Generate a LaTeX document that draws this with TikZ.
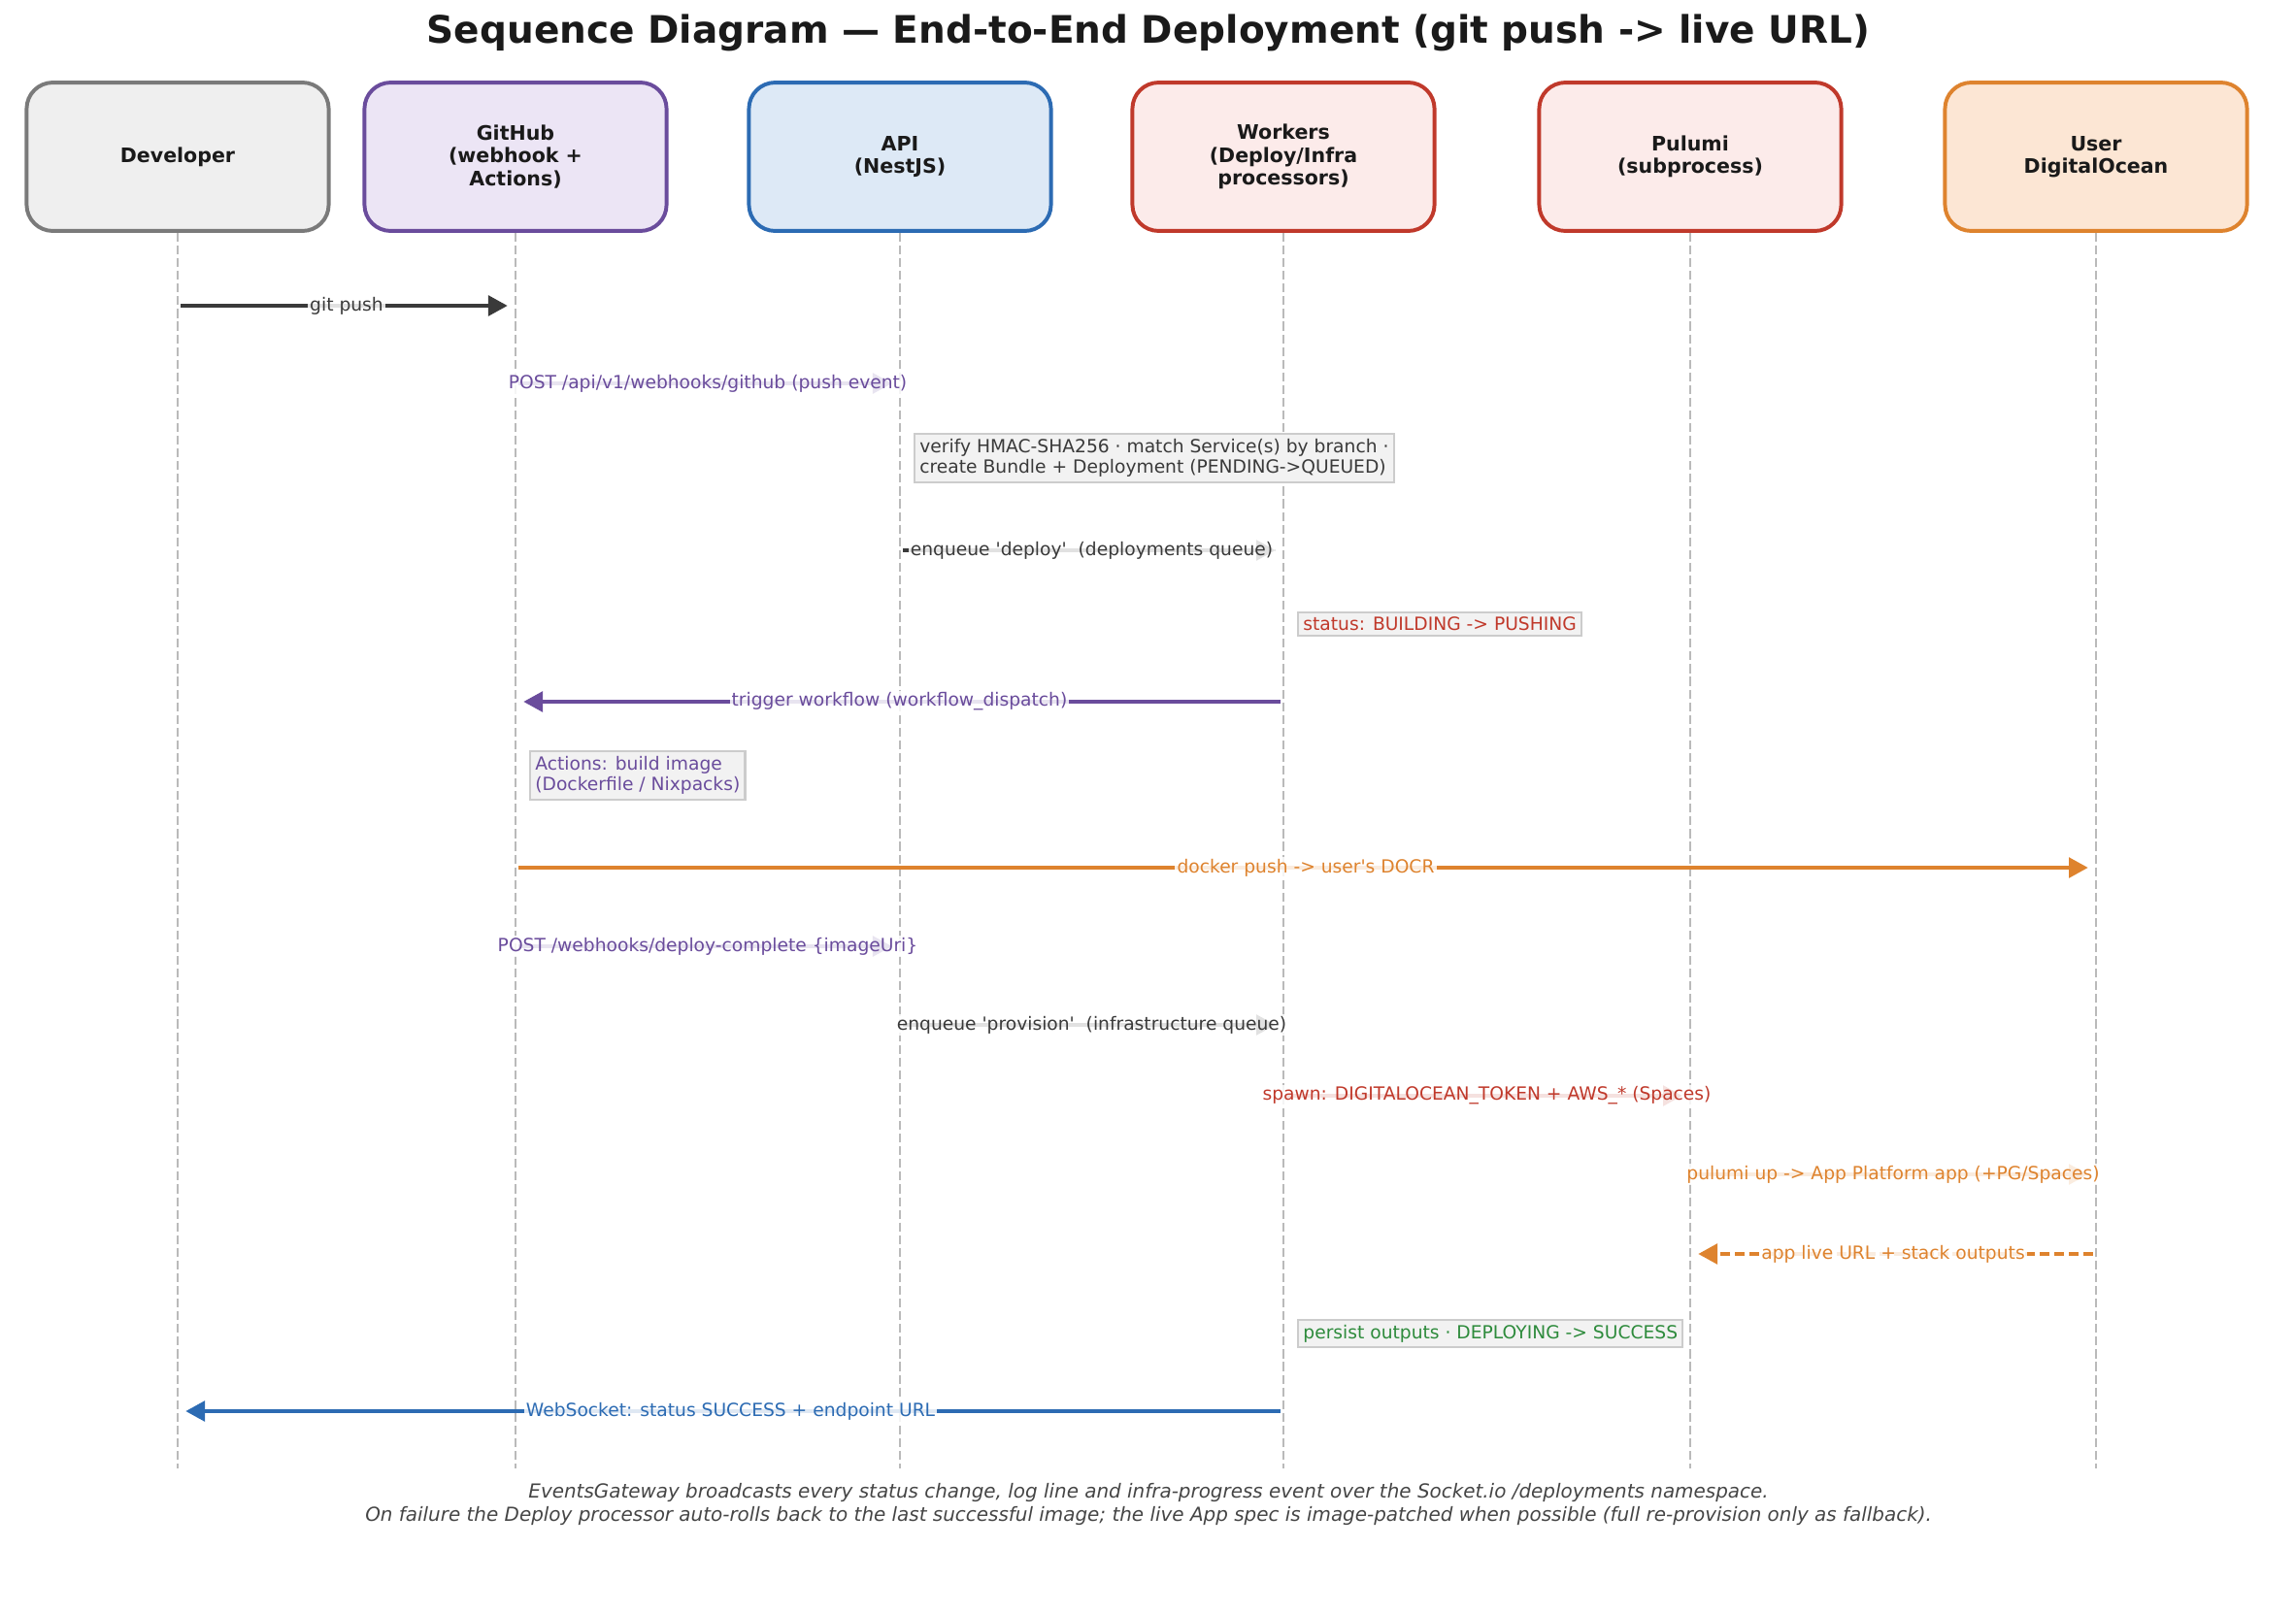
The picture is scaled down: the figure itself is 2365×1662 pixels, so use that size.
\documentclass[tikz,border=0pt]{standalone}
\usepackage{fontspec}
\setmainfont{DejaVu Sans}[Ligatures=TeXOff]
\usetikzlibrary{arrows.meta}

\definecolor{inkdark}{HTML}{3A3A3A}
\definecolor{inktitle}{HTML}{1A1A1A}
\definecolor{inkgray}{HTML}{7A7A7A}
\definecolor{inkpurple}{HTML}{6A4C9C}
\definecolor{inkblue}{HTML}{2C6BB3}
\definecolor{inkred}{HTML}{C0392B}
\definecolor{inkorange}{HTML}{DE832E}
\definecolor{inkgreen}{HTML}{2E8B3C}
\definecolor{fillgray}{HTML}{EFEFEF}
\definecolor{fillpurple}{HTML}{ECE5F5}
\definecolor{fillblue}{HTML}{DDE9F6}
\definecolor{fillred}{HTML}{FCEBEA}
\definecolor{fillorange}{HTML}{FCE6D4}

\begin{document}
\begin{tikzpicture}[x=0.0169333cm,y=-0.0169333cm,
  actor/.style={draw,line width=1.9pt,rounded corners=13pt,minimum width=5.27cm,
    minimum height=2.59cm,align=center,text=inktitle,
    font=\bfseries\fontsize{9.9}{11.2}\selectfont},
  lifeline/.style={draw=black!27,line width=1.1pt,dash pattern=on 4.4pt off 1.9pt},
  msg/.style={line width=1.6pt,-{Triangle[length=9.5pt,width=10pt]},
    shorten >=4pt,shorten <=1.5pt},
  lbl/.style={fill=white,fill opacity=0.85,text opacity=1,inner sep=1pt,
    font=\fontsize{9}{10}\selectfont},
  note/.style={anchor=west,xshift=0.24cm,draw=black!20,line width=1pt,fill=black!5,
    inner sep=2.5pt,align=left,font=\fontsize{9}{10.4}\selectfont}]
  \useasboundingbox (0,0) rectangle (2365,1662);

  \node[font=\bfseries\fontsize{18.8}{22}\selectfont,text=inktitle] (title) at (1183,34)
    {Sequence Diagram — End-to-End Deployment (git push -> live URL)};

  % participants
  \node[actor,draw=inkgray,fill=fillgray] (dev) at (183,161.5) {Developer};
  \node[actor,draw=inkpurple,fill=fillpurple] (gh) at (531,161.5) {GitHub\\(webhook +\\Actions)};
  \node[actor,draw=inkblue,fill=fillblue] (api) at (927,161.5) {API\\(NestJS)};
  \node[actor,draw=inkred,fill=fillred] (wrk) at (1322,161.5) {Workers\\(Deploy/Infra\\processors)};
  \node[actor,draw=inkred,fill=fillred] (pul) at (1741,161.5) {Pulumi\\(subprocess)};
  \node[actor,draw=inkorange,fill=fillorange] (usr) at (2159,161.5) {User\\DigitalOcean};

  \foreach \p in {dev,gh,api,wrk,pul,usr} {
    \draw[lifeline] (\p.south) -- (\p.south |- 0,1513);
  }

  % messages
  \draw[msg,color=inkdark] (dev |- 0,315) -- node[lbl] (m1) {git push} (gh |- 0,315);
  \draw[msg,color=inkpurple] (gh |- 0,395) -- node[lbl] (m2)
    {POST /api/v1/webhooks/github (push event)} (api |- 0,395);
  \node[note,text=inkdark] (n1) at (api |- 0,472)
    {verify HMAC-SHA256 · match Service(s) by branch ·\\create Bundle + Deployment (PENDING->QUEUED)};
  \draw[msg,color=inkdark] (api |- 0,567) -- node[lbl] (m3)
    {enqueue 'deploy'~~(deployments queue)} (wrk |- 0,567);
  \node[note,text=inkred] (n2) at (wrk |- 0,643) {status: BUILDING -> PUSHING};
  \draw[msg,color=inkpurple] (wrk |- 0,723) -- node[lbl] (m4)
    {trigger workflow (workflow\_dispatch)} (gh |- 0,723);
  \node[note,text=inkpurple] (n3) at (gh |- 0,799) {Actions: build image\\(Dockerfile / Nixpacks)};
  \draw[msg,color=inkorange] (gh |- 0,894) -- node[lbl] (m5)
    {docker push -> user's DOCR} (usr |- 0,894);
  \draw[msg,color=inkpurple] (gh |- 0,975) -- node[lbl] (m6)
    {POST /webhooks/deploy-complete \{imageUri\}} (api |- 0,975);
  \draw[msg,color=inkdark] (api |- 0,1056) -- node[lbl] (m7)
    {enqueue 'provision'~~(infrastructure queue)} (wrk |- 0,1056);
  \draw[msg,color=inkred] (wrk |- 0,1129) -- node[lbl] (m8)
    {spawn: DIGITALOCEAN\_TOKEN + AWS\_* (Spaces)} (pul |- 0,1129);
  \draw[msg,color=inkorange] (pul |- 0,1210) -- node[lbl] (m9)
    {pulumi up -> App Platform app (+PG/Spaces)} (usr |- 0,1210);
  \draw[msg,color=inkorange,dash pattern=on 5pt off 2.2pt] (usr |- 0,1292) -- node[lbl] (m10)
    {app live URL + stack outputs} (pul |- 0,1292);
  \node[note,text=inkgreen] (n4) at (wrk |- 0,1374) {persist outputs · DEPLOYING -> SUCCESS};
  \draw[msg,color=inkblue] (wrk |- 0,1454) -- node[lbl] (m11)
    {WebSocket: status SUCCESS + endpoint URL} (dev |- 0,1454);

  \node[align=center,text=black!73,font=\itshape\fontsize{9.6}{11.5}\selectfont] (foot) at (1183,1550)
    {EventsGateway broadcasts every status change, log line and infra-progress event over the Socket.io /deployments namespace.\\
     On failure the Deploy processor auto-rolls back to the last successful image; the live App spec is image-patched when possible (full re-provision only as fallback).};
\end{tikzpicture}
\end{document}
